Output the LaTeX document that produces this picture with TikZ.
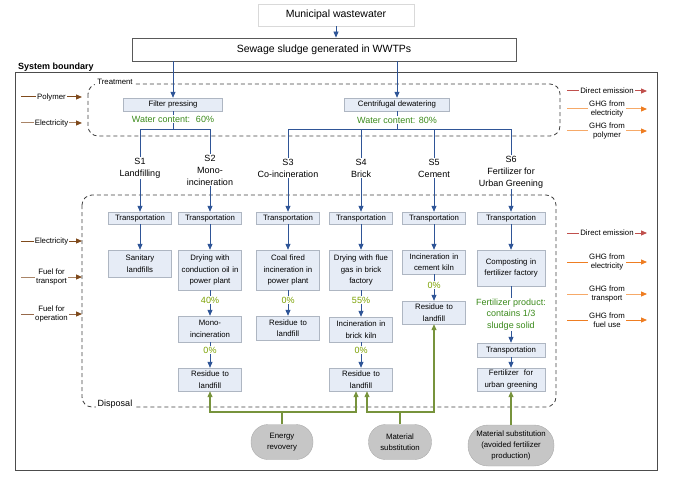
\documentclass[tikz,border=0pt]{standalone}
\usepackage{fontspec}
\setmainfont{Liberation Sans}
\usetikzlibrary{positioning,arrows.meta,calc}

\definecolor{flowblue}{HTML}{2F5597}
\definecolor{boxfill}{HTML}{E6ECF6}
\definecolor{boxline}{HTML}{AEB6C2}
\definecolor{wetgreen}{HTML}{3A8A1A}
\definecolor{pctgreen}{HTML}{7AA000}
\definecolor{olive}{HTML}{77933C}
\definecolor{inbrown}{HTML}{7F4A1C}
\definecolor{intan}{HTML}{A98467}
\definecolor{inmid}{HTML}{96694A}
\definecolor{outred}{HTML}{C0504D}
\definecolor{outorange}{HTML}{EE7D22}
\definecolor{outlight}{HTML}{F6A968}

\newcommand{\fsz}[2]{\fontsize{#1}{#2}\selectfont}

\begin{document}
\begin{tikzpicture}[x=1pt,y=-1pt,
	topbox/.style={draw=gray!30, minimum width=156, minimum height=22, font=\fsz{10.5}{12}},
	sludgebox/.style={draw=gray!70!black, line width=0.8pt, minimum width=384, minimum height=23, font=\fsz{10.5}{12}},
	treat/.style={draw=boxline, fill=boxfill, minimum height=13, inner sep=1pt, font=\fsz{7.8}{9}},
	stepbox/.style={draw=boxline, fill=boxfill, text width=59, align=center, inner sep=2pt, font=\fsz{7.8}{11.5}},
	water/.style={text=wetgreen, font=\fsz{9}{11}, inner sep=1pt},
	pct/.style={text=pctgreen, font=\fsz{9}{10}, inner sep=1pt},
	scen/.style={align=center, font=\fsz{9}{12}, inner sep=1pt},
	link/.style={draw=flowblue, line width=0.8pt},
	flow/.style={link, -{Triangle[length=6pt,width=5pt]}},
	benefit/.style={draw=gray!65, fill=gray!45, align=center, font=\fsz{7.8}{11}},
	gline/.style={draw=olive, line width=1.2pt},
	gain/.style={gline, -{Triangle[length=6pt,width=5pt]}},
	boundary/.style={draw=black!75, line width=0.8pt, dash pattern=on 4pt off 3pt, rounded corners=10pt},
	side/.style={font=\fsz{7.8}{8.5}, fill=white, inner sep=1pt, align=center},
	feed/.style={line width=1pt, -{Triangle[length=6pt,width=5pt]}}
	]
	\useasboundingbox (0,0) rectangle (690,481);
	
	% inputs
	\node[topbox] (municipal) at (336,15) {Municipal wastewater};
	\node[sludgebox] (sludge) at (324,49.5) {Sewage sludge generated in WWTPs};
	\draw[flow] (municipal.south) -- (municipal.south |- sludge.north);
	
	% system boundary
	\draw[draw=gray!60!black, line width=1pt] (15,73) rectangle (657,470);
	\node[font=\bfseries\fsz{9}{11}, anchor=west, inner sep=0] (sysname) at (18,67) {System boundary};
	
	% treatment
	\draw[boundary] (88,84) rectangle (560,136);
	\node[fill=white, font=\fsz{7.8}{9}, inner sep=2pt] (treatname) at (115,82) {Treatment};
	\node[treat, minimum width=99] (filter) at (173,104.5) {Filter pressing};
	\node[water] (fwater) at (173,119) {Water content:~ 60\%};
	\node[treat, minimum width=105] (centri) at (397,104.5) {Centrifugal dewatering};
	\node[water] (cwater) at (397,120) {Water content: 80\%};
	\coordinate (fsplit) at (173,129);
	\coordinate (csplit) at (397,129);
	
	\draw[flow] (filter.north |- sludge.south) -- (filter);
	\draw[flow] (centri.north |- sludge.south) -- (centri);
	\draw[link] (filter) -- (fwater);
	\draw[link] (fwater) -- (fsplit);
	\draw[link] (centri) -- (cwater);
	\draw[link] (cwater) -- (csplit);
	
	% scenarios
	\node[scen] (s1) at (140,168) {S1\\Landfilling};
	\node[scen] (s2) at (210,170) {S2\\Mono-\\incineration};
	\node[scen] (s3) at (288,168) {S3\\Co-incineration};
	\node[scen] (s4) at (361,168) {S4\\Brick};
	\node[scen] (s5) at (434,168) {S5\\Cement};
	\node[scen] (s6) at (511,172) {S6\\Fertilizer for\\Urban Greening};
	
	\draw[link] (fsplit) -| (s1);
	\draw[link] (fsplit) -| (s2);
	\draw[link] (csplit) -| (s3);
	\draw[link] (csplit) -| (s4);
	\draw[link] (csplit) -| (s5);
	\draw[link] (csplit) -| (s6);
	
	% disposal
	\draw[boundary] (82,195) rectangle (556,407);
	\node[fill=white, font=\fsz{9}{11}, inner sep=2pt] (dispname) at (115,404) {Disposal};
	
	\node[stepbox, minimum height=12] (tr1) at (140,218) {Transportation};
	\node[stepbox, minimum height=12] (tr2) at (210,218) {Transportation};
	\node[stepbox, minimum height=12] (tr3) at (288,218) {Transportation};
	\node[stepbox, minimum height=12] (tr4) at (361,218) {Transportation};
	\node[stepbox, minimum height=12] (tr5) at (434,218) {Transportation};
	\node[stepbox, text width=64, minimum height=12] (tr6) at (511,218) {Transportation};
	
	\node[stepbox, minimum height=27] (landfill1) at (140,263.5) {Sanitary\\landfills};
	\node[stepbox, minimum height=40] (dry2) at (210,270) {Drying with\\conduction oil in\\power plant};
	\node[stepbox, minimum height=40] (coal3) at (288,270) {Coal fired\\incineration in\\power plant};
	\node[stepbox, minimum height=40] (dry4) at (361,270) {Drying with flue\\gas in brick\\factory};
	\node[stepbox, minimum height=24] (kiln5) at (434,262) {Incineration in\\cement kiln};
	\node[stepbox, text width=64, minimum height=36] (comp6) at (511,268) {Composting in\\fertilizer factory};
	
	\node[pct] (p2) at (210,300) {40\%};
	\node[pct] (p3) at (288,300) {0\%};
	\node[pct] (p4) at (361,300) {55\%};
	\node[pct] (p5) at (434,285) {0\%};
	
	\node[stepbox, minimum height=26] (mono2) at (210,329) {Mono-\\incineration};
	\node[stepbox, minimum height=24] (res3) at (288,328) {Residue to\\landfill};
	\node[stepbox, minimum height=25] (brick4) at (361,329.5) {Incineration in\\brick kiln};
	\node[stepbox, minimum height=23] (res5) at (434,312.5) {Residue to\\landfill};
	\node[water, align=center, font=\fsz{9}{11.5}] (product6) at (511,314.5) {Fertilizer product:\\contains 1/3\\sludge solid};
	
	\node[pct] (p2b) at (210,350) {0\%};
	\node[pct] (p4b) at (361,350) {0\%};
	\node[stepbox, minimum height=23] (res2) at (210,379.5) {Residue to\\landfill};
	\node[stepbox, minimum height=23] (res4) at (361,379.5) {Residue to\\landfill};
	\node[stepbox, text width=64, minimum height=14] (tr6b) at (511,350) {Transportation};
	\node[stepbox, text width=64, minimum height=23] (urban6) at (511,379.5) {Fertilizer\ \ for\\urban greening};
	
	\draw[flow] (s1) -- (tr1);
	\draw[flow] (s2) -- (tr2);
	\draw[flow] (s3) -- (tr3);
	\draw[flow] (s4) -- (tr4);
	\draw[flow] (s5) -- (tr5);
	\draw[flow] (s6) -- (tr6);
	\draw[flow] (tr1) -- (landfill1);
	\draw[flow] (tr2) -- (dry2);
	\draw[flow] (tr3) -- (coal3);
	\draw[flow] (tr4) -- (dry4);
	\draw[flow] (tr5) -- (kiln5);
	\draw[flow] (tr6) -- (comp6);
	
	\draw[link] (dry2) -- (p2);
	\draw[flow] (p2) -- (mono2);
	\draw[link] (mono2) -- (p2b);
	\draw[flow] (p2b) -- (res2);
	\draw[link] (coal3) -- (p3);
	\draw[flow] (p3) -- (res3);
	\draw[link] (dry4) -- (p4);
	\draw[flow] (p4) -- (brick4);
	\draw[link] (brick4) -- (p4b);
	\draw[flow] (p4b) -- (res4);
	\draw[link] (kiln5) -- (p5);
	\draw[flow] (p5) -- (res5);
	\draw[link] (comp6) -- (product6);
	\draw[flow] (product6) -- (tr6b);
	\draw[flow] (tr6b) -- (urban6);
	
	% benefits
	\node[benefit, minimum width=62, minimum height=35, rounded corners=17pt] (energy) at (282,442) {Energy\\revovery};
	\node[benefit, minimum width=63, minimum height=35, rounded corners=17pt] (matsub) at (400,442) {Material\\substitution};
	\node[benefit, minimum width=86, minimum height=41, rounded corners=20pt] (fertsub) at (511,445.5) {Material substitution\\(avoided fertilizer\\production)};
	\coordinate (ejoin) at (282,412);
	\coordinate (mjoin) at (400,412);
	
	\draw[gline] (energy) -- (ejoin);
	\draw[gain] (ejoin) -| (res2);
	\draw[gain] (ejoin) -| ([xshift=-5pt]res4.south);
	\draw[gline] (matsub) -- (mjoin);
	\draw[gain] (mjoin) -| ([xshift=6pt]res4.south);
	\draw[gain] (mjoin) -| (res5);
	\draw[gain] (fertsub) -- (urban6);
	
	% energy and material inputs
	\coordinate (polyL) at (21,97);   \coordinate (polyR) at (82,97);
	\coordinate (elecL) at (21,123);  \coordinate (elecR) at (82,123);
	\coordinate (elec2L) at (21,241); \coordinate (elec2R) at (82,241);
	\coordinate (fuelL) at (21,277);  \coordinate (fuelR) at (82,277);
	\coordinate (operL) at (21,314);  \coordinate (operR) at (82,314);
	\draw[feed, draw=inbrown, -{Triangle[length=6pt,width=5pt,color=inbrown]}] (polyL) -- node[side] {Polymer} (polyR);
	\draw[feed, draw=intan, -{Triangle[length=6pt,width=5pt,color=inbrown]}] (elecL) -- node[side] {Electricity} (elecR);
	\draw[feed, draw=inbrown, -{Triangle[length=6pt,width=5pt,color=inbrown]}] (elec2L) -- node[side] {Electricity} (elec2R);
	\draw[feed, draw=intan, -{Triangle[length=6pt,width=5pt,color=inbrown]}] (fuelL) -- node[side] {Fuel for\\transport} (fuelR);
	\draw[feed, draw=inmid, -{Triangle[length=6pt,width=5pt,color=inbrown]}] (operL) -- node[side] {Fuel for\\operation} (operR);
	
	% emissions
	\coordinate (dirL) at (567,91);   \coordinate (dirR) at (647,91);
	\coordinate (ghgeL) at (567,109); \coordinate (ghgeR) at (647,109);
	\coordinate (ghgpL) at (567,131); \coordinate (ghgpR) at (647,131);
	\coordinate (dir2L) at (567,233); \coordinate (dir2R) at (647,233);
	\coordinate (ghge2L) at (567,262); \coordinate (ghge2R) at (647,262);
	\coordinate (ghgtL) at (567,294); \coordinate (ghgtR) at (647,294);
	\coordinate (ghgfL) at (567,320); \coordinate (ghgfR) at (647,320);
	\draw[feed, draw=outred, -{Triangle[length=6pt,width=5pt,color=outred]}] (dirL) -- node[side] {Direct emission} (dirR);
	\draw[feed, draw=outlight, -{Triangle[length=6pt,width=5pt,color=outorange]}] (ghgeL) -- node[side] {GHG from\\electricity} (ghgeR);
	\draw[feed, draw=outlight, -{Triangle[length=6pt,width=5pt,color=outorange]}] (ghgpL) -- node[side] {GHG from\\polymer} (ghgpR);
	\draw[feed, draw=outred, -{Triangle[length=6pt,width=5pt,color=outred]}] (dir2L) -- node[side] {Direct emission} (dir2R);
	\draw[feed, draw=outorange, -{Triangle[length=6pt,width=5pt,color=outorange]}] (ghge2L) -- node[side] {GHG from\\electricity} (ghge2R);
	\draw[feed, draw=outlight, -{Triangle[length=6pt,width=5pt,color=outorange]}] (ghgtL) -- node[side] {GHG from\\transport} (ghgtR);
	\draw[feed, draw=outorange, -{Triangle[length=6pt,width=5pt,color=outorange]}] (ghgfL) -- node[side] {GHG from\\fuel use} (ghgfR);
\end{tikzpicture}
\end{document}
